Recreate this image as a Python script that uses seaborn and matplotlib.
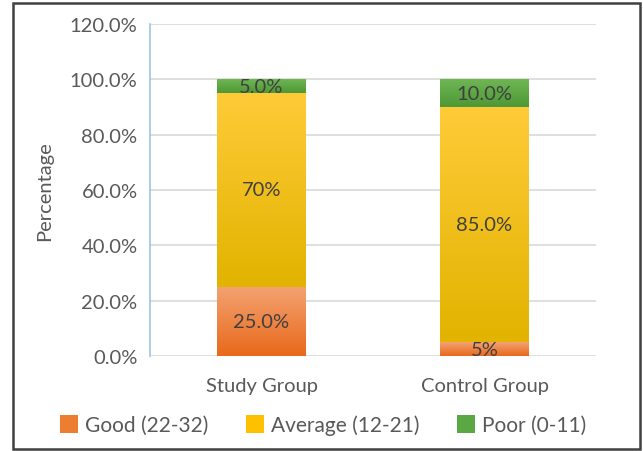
import numpy as np
import pandas as pd
import seaborn as sns
import matplotlib.pyplot as plt
from matplotlib.patches import Rectangle, Patch
from matplotlib.colors import LinearSegmentedColormap

groups = ['Study Group', 'Control Group']
good = [25.0, 5.0]
average = [70.0, 85.0]
poor = [5.0, 10.0]
series_names = ['Good (22-32)', 'Average (12-21)', 'Poor (0-11)']
good_labels = ['25.0%', '5%']
average_labels = ['70%', '85.0%']
poor_labels = ['5.0%', '10.0%']

sns.set_style('white')
plt.rcParams['font.family'] = ['Lato', 'DejaVu Sans']

df = pd.DataFrame({'group': groups, 'good': good, 'average': average, 'poor': poor})
df['top_avg'] = df['good'] + df['average']
df['top_poor'] = df['top_avg'] + df['poor']

# colours (top, bottom) for a light vertical gradient like the original
grad = {
    'poor': ('#6DB653', '#4E9835'),
    'average': ('#FFCB38', '#E2B300'),
    'good': ('#F4A272', '#E8691B'),
}
solid = {'poor': '#5AA843', 'average': '#FFC000', 'good': '#ED7D31'}

fig = plt.figure(figsize=(6.43, 4.52), dpi=100)
ax = fig.add_axes([0.2333, 0.2102, 0.6936, 0.7345])

# stacked bars drawn as overlapping cumulative bars
sns.barplot(data=df, x='group', y='top_poor', color=solid['poor'], width=0.395, ax=ax, zorder=2)
n1 = len(ax.patches)
sns.barplot(data=df, x='group', y='top_avg', color=solid['average'], width=0.395, ax=ax, zorder=3)
n2 = len(ax.patches)
sns.barplot(data=df, x='group', y='good', color=solid['good'], width=0.395, ax=ax, zorder=4)

layers = ['poor'] * n1 + ['average'] * (n2 - n1) + ['good'] * (len(ax.patches) - n2)
bottoms = {'poor': df['top_avg'].tolist(), 'average': df['good'].tolist(), 'good': [0, 0]}
for i, (p, key) in enumerate(zip(list(ax.patches), layers)):
    p.set_edgecolor('none')
    idx = i % len(groups)
    x0 = p.get_x()
    w = p.get_width()
    y0 = bottoms[key][idx]
    y1 = p.get_height()
    cmap = LinearSegmentedColormap.from_list(key, [grad[key][1], grad[key][0]])
    img = ax.imshow(np.linspace(0, 1, 100).reshape(-1, 1), cmap=cmap, origin='lower',
                    extent=[x0, x0 + w, y0, y1], aspect='auto', zorder=p.get_zorder() + 0.5)
    clip = Rectangle((x0, y0), w, y1 - y0, transform=ax.transData)
    img.set_clip_path(clip)

ax.set_xlim(-0.5, 1.5)
ax.set_ylim(0, 120)

# value labels in the middle of each segment
for i in range(len(groups)):
    ax.text(i, good[i] / 2, good_labels[i], ha='center', va='center', fontsize=14.5, color='#404040', zorder=10)
    ax.text(i, good[i] + average[i] / 2, average_labels[i], ha='center', va='center', fontsize=14.5, color='#404040', zorder=10)
    ax.text(i, good[i] + average[i] + poor[i] / 2, poor_labels[i], ha='center', va='center', fontsize=14.5, color='#404040', zorder=10)

ax.set_yticks(np.arange(0, 121, 20))
ax.set_yticklabels([f'{v:.1f}%' for v in np.arange(0, 121, 20)])
ax.yaxis.grid(True, color='#D9D9D9', linewidth=1.2, zorder=0)
ax.set_axisbelow(True)
ax.tick_params(axis='both', length=0, labelsize=14.5, labelcolor='#595959')
ax.tick_params(axis='y', pad=9)
ax.tick_params(axis='x', pad=15)
ax.set_xlabel('')
ax.set_ylabel('Percentage', fontsize=14.5, color='#595959', labelpad=12)
for s in ['top', 'right', 'bottom']:
    ax.spines[s].set_visible(False)
ax.spines['left'].set_color('#9DC3E6')
ax.spines['left'].set_linewidth(1.2)

handles = [Patch(facecolor=solid[k], edgecolor='none') for k in ['good', 'average', 'poor']]
fig.legend(handles, series_names, loc='center', bbox_to_anchor=(0.502, 0.058), ncol=3, frameon=False,
           fontsize=15, labelcolor='#595959', handlelength=0.9, handleheight=0.9,
           handletextpad=0.3, columnspacing=1.8)

fig.patches.append(Rectangle((0.0202, 0.0044), 0.975, 0.9867, transform=fig.transFigure,
                             fill=False, edgecolor='#404040', linewidth=1.8))

fig.savefig('out.png', dpi=100)
